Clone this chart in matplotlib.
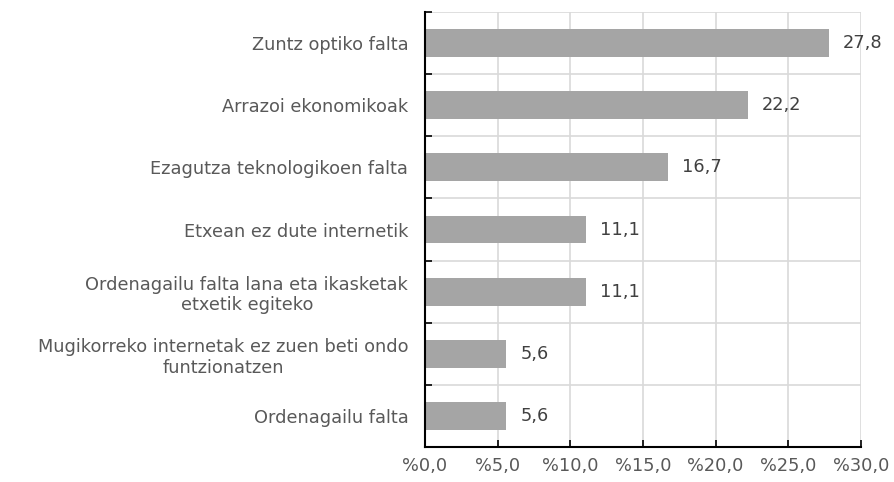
import numpy as np
from matplotlib import pyplot as plt

categories = ['Zuntz optiko falta', 'Arrazoi ekonomikoak', 'Ezagutza teknologikoen falta',
              'Etxean ez dute internetik', 'Ordenagailu falta lana eta ikasketak\netxetik egiteko',
              'Mugikorreko internetak ez zuen beti ondo\nfuntzionatzen', 'Ordenagailu falta']
values = [27.8, 22.2, 16.7, 11.1, 11.1, 5.6, 5.6]
xticks = [0, 5, 10, 15, 20, 25, 30]

txt = '#595959'
fs = 12.8
fig = plt.figure(figsize=(8.94, 4.82), dpi=100)
ax = fig.add_axes([425/894, 35/482, 436/894, 435/482])

y = np.arange(len(categories))
ax.barh(y, values, height=0.45, color='#a5a5a5', zorder=3)
for yi, v in zip(y, values):
    ax.text(v + 0.95, yi, ('%.1f' % v).replace('.', ','), va='center', ha='left',
            fontsize=fs, color='#404040')

ax.set_ylim(len(categories) - 0.5, -0.5)
ax.set_xlim(0, 30)
ax.set_yticks(y)
ax.set_yticklabels(categories, fontsize=fs, color=txt, ha='right', multialignment='center')
ax.tick_params(axis='y', length=0, pad=12)
ax.set_yticks(np.arange(-0.5, len(categories), 1), minor=True)
ax.tick_params(axis='y', which='minor', direction='in', length=5, width=1.2, color='black')

ax.set_xticks(xticks)
ax.set_xticklabels(['%' + ('%.1f' % t).replace('.', ',') for t in xticks], fontsize=fs, color=txt)
ax.tick_params(axis='x', direction='in', length=5, width=1.2, pad=7)

ax.grid(True, which='major', axis='x', color='#d9d9d9', linewidth=1.2, zorder=0)
ax.grid(True, which='minor', axis='y', color='#d9d9d9', linewidth=1.2, zorder=0)
for s in ['top', 'right']:
    ax.spines[s].set_visible(False)
for s in ['left', 'bottom']:
    ax.spines[s].set_linewidth(1.5)
    ax.spines[s].set_zorder(4)

fig.savefig('out.png', dpi=100)
